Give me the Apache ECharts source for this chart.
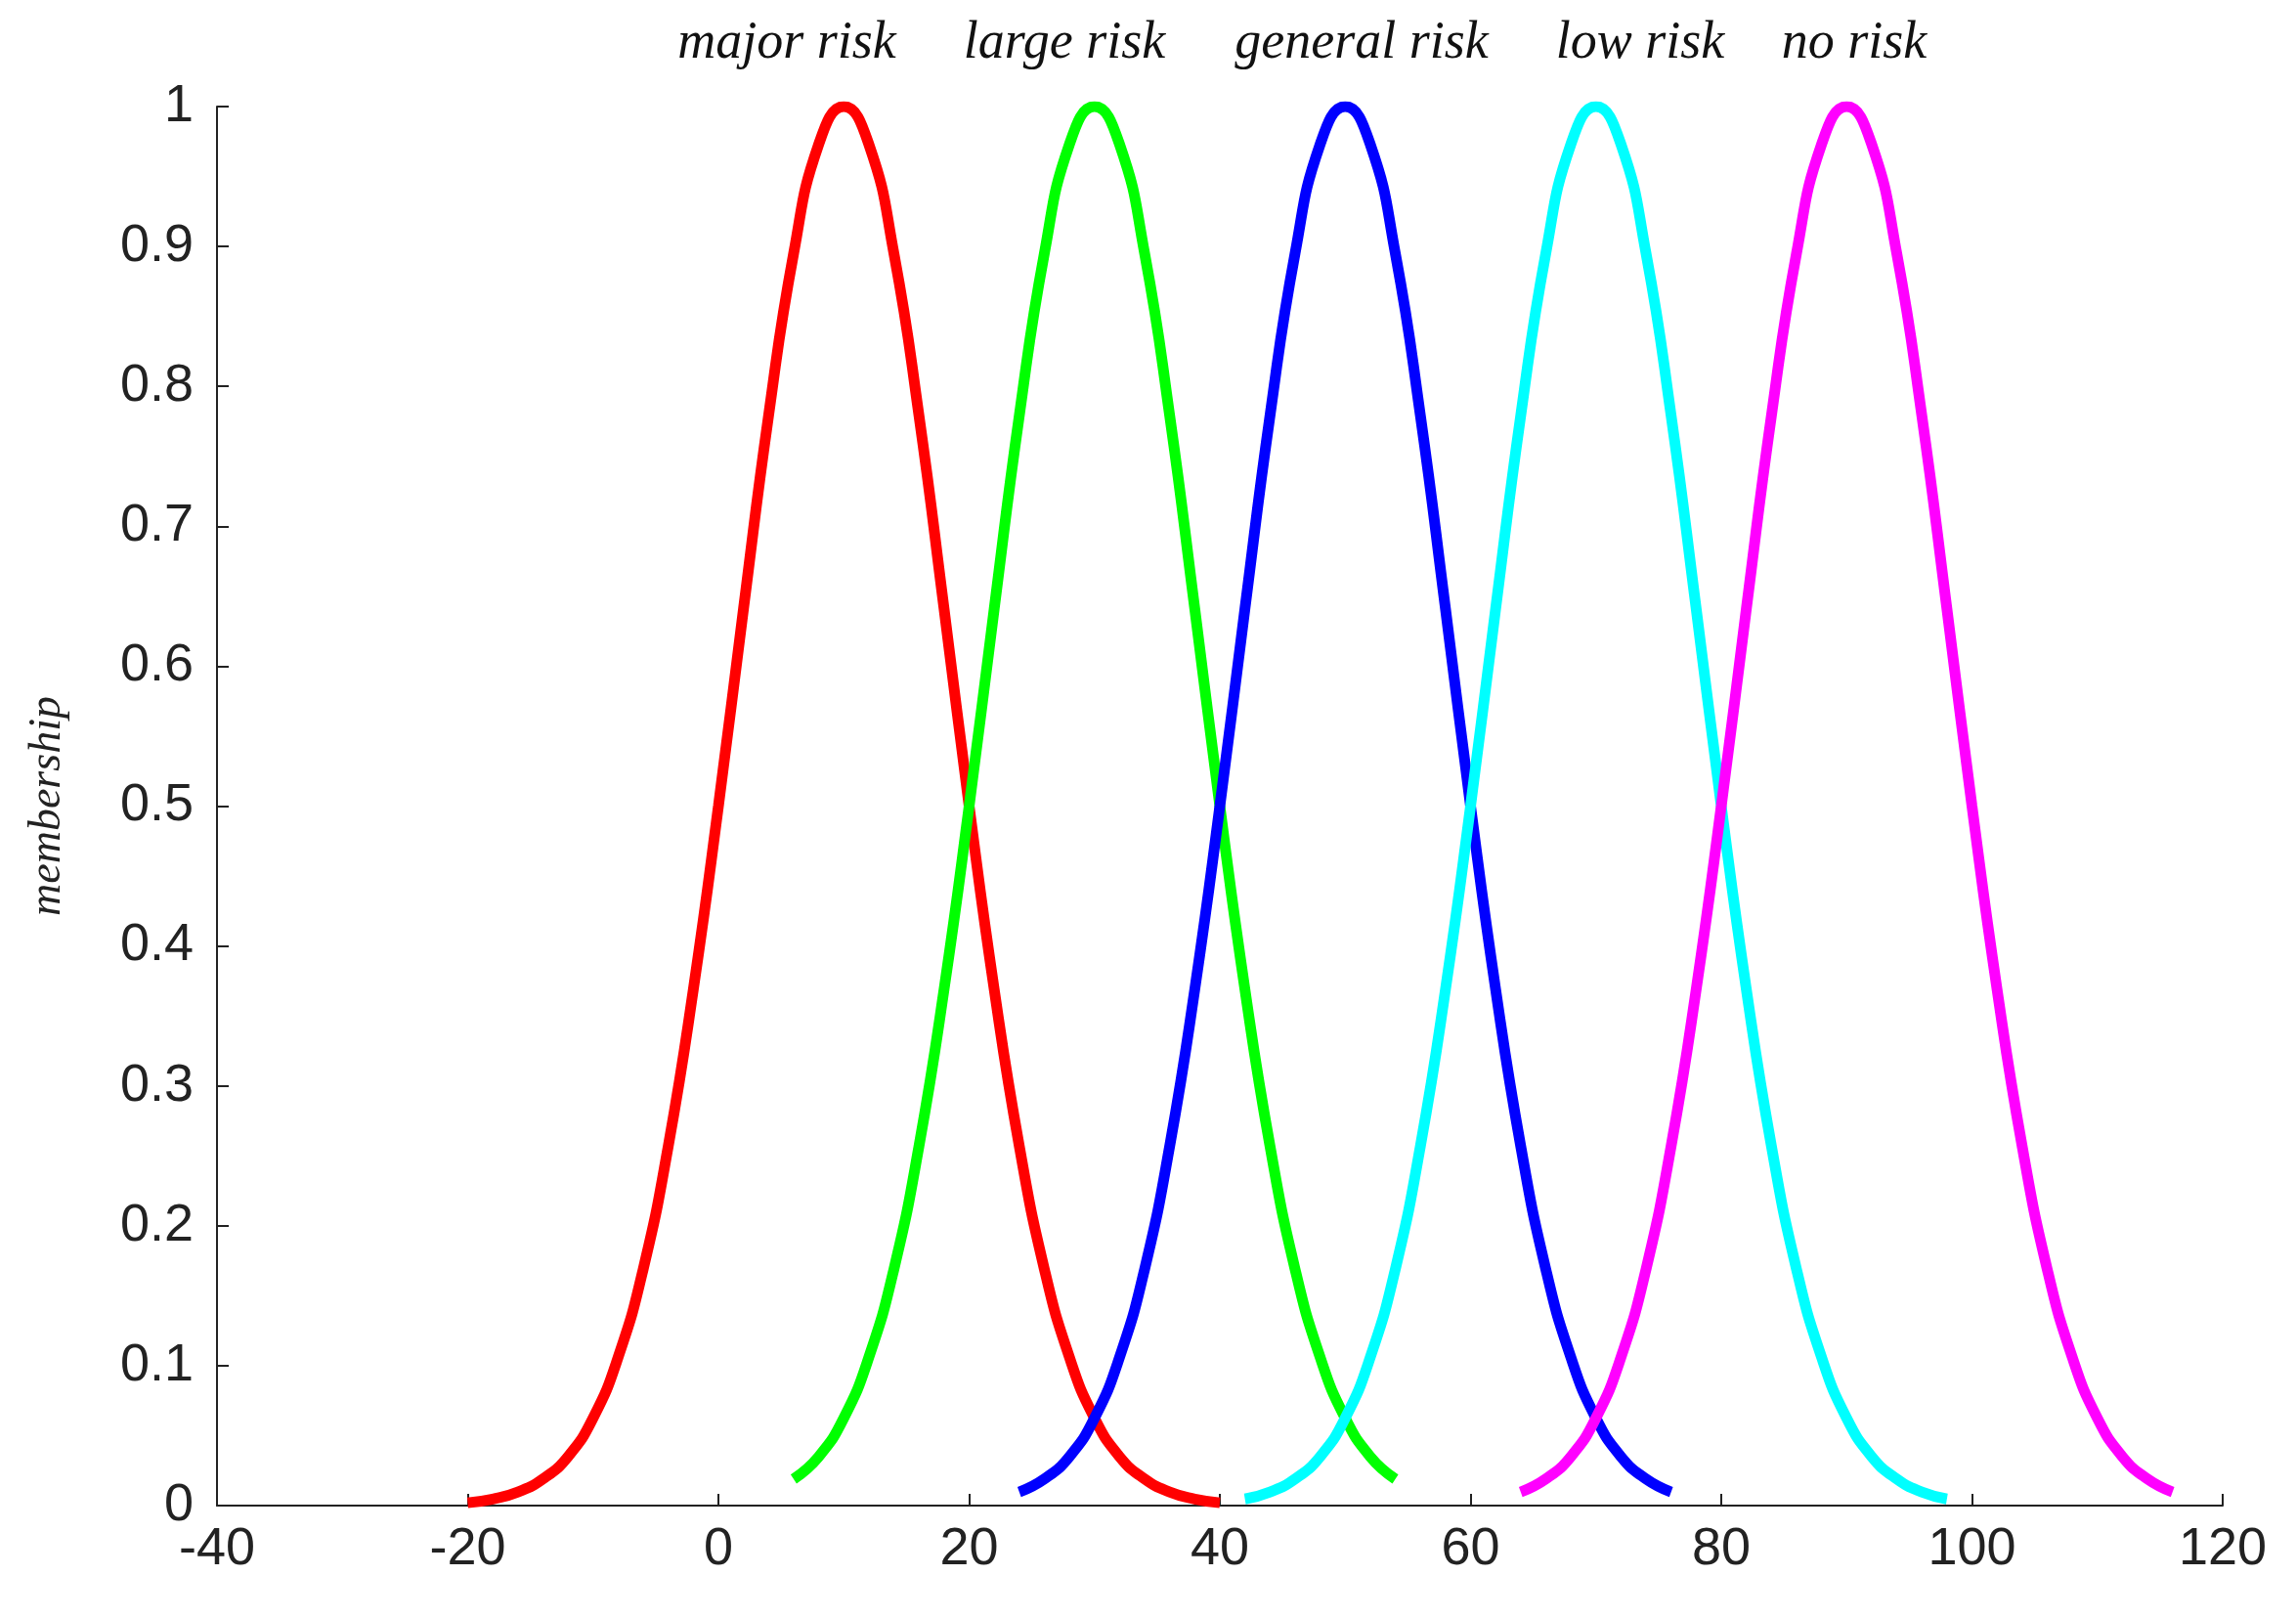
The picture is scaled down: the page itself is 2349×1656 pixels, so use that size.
<!DOCTYPE html>
<html>
<head>
<meta charset="utf-8">
<script src="https://cdn.jsdelivr.net/npm/echarts@6/dist/echarts.min.js"></script>
<style>html,body{margin:0;padding:0;background:#fff}#main{width:2349px;height:1656px}</style>
</head>
<body>
<div id="main"></div>
<script>
// membership values, at offsets -30..30 (step 2) from each peak
var offsets = [-30,-28,-26,-24,-22,-20,-18,-16,-14,-12,-10,-8,-6,-4,-2,0,2,4,6,8,10,12,14,16,18,20,22,24,26,28,30];
var profile = [0.002,0.0047,0.0097,0.019,0.035,0.0625,0.106,0.169,0.257,0.369,0.5,0.641,0.779,0.895,0.973,1,
               0.973,0.895,0.779,0.641,0.5,0.369,0.257,0.169,0.106,0.0625,0.035,0.019,0.0097,0.0047,0.002];
var names = ['major risk', 'large risk', 'general risk', 'low risk', 'no risk'];
var centers = [10, 30, 50, 70, 90];
var spans = [30, 24, 26, 28, 26];   // visible half-width of each curve
var colors = ['#ff0000', '#00ff00', '#0000ff', '#00ffff', '#ff00ff'];
var xTicks = [-40, 120, 20];
var yTicks = [0, 1, 0.1];
var labelX = [805, 1089, 1393, 1678, 1897];

var chart = echarts.init(document.getElementById('main'));

var series = names.map(function (name, i) {
    var pts = [];
    offsets.forEach(function (o, k) {
        if (Math.abs(o) <= spans[i]) pts.push([centers[i] + o, profile[k]]);
    });
    return {
        name: name,
        type: 'line',
        smooth: 0.5,
        showSymbol: false,
        data: pts,
        lineStyle: {color: colors[i], width: 11},
        itemStyle: {color: colors[i]}
    };
});

var tickFont = {color: '#222', fontSize: 54, fontFamily: 'Liberation Sans'};

chart.setOption({
    animation: false,
    backgroundColor: '#fff',
    grid: {left: 222, right: 75, top: 109, bottom: 116},
    xAxis: {
        type: 'value', min: xTicks[0], max: xTicks[1], interval: xTicks[2],
        axisLine: {onZero: false, lineStyle: {color: '#222', width: 2}},
        axisTick: {inside: true, length: 12, lineStyle: {color: '#222', width: 2}},
        axisLabel: Object.assign({margin: 18}, tickFont),
        splitLine: {show: false}
    },
    yAxis: {
        type: 'value', min: yTicks[0], max: yTicks[1], interval: yTicks[2],
        name: 'membership', nameLocation: 'middle', nameGap: 150, nameRotate: 90,
        nameTextStyle: {fontFamily: 'Liberation Serif', fontStyle: 'italic', fontSize: 46, color: '#222'},
        axisLine: {show: true, onZero: false, lineStyle: {color: '#222', width: 2}},
        axisTick: {show: true, inside: true, length: 12, lineStyle: {color: '#222', width: 2}},
        axisLabel: Object.assign({margin: 24}, tickFont),
        splitLine: {show: false}
    },
    graphic: names.map(function (n, i) {
        return {
            type: 'text', x: labelX[i], y: 18,
            style: {text: n, textAlign: 'center', font: 'italic 54px "Liberation Serif"', fill: '#111'}
        };
    }),
    series: series
});
</script>
</body>
</html>
